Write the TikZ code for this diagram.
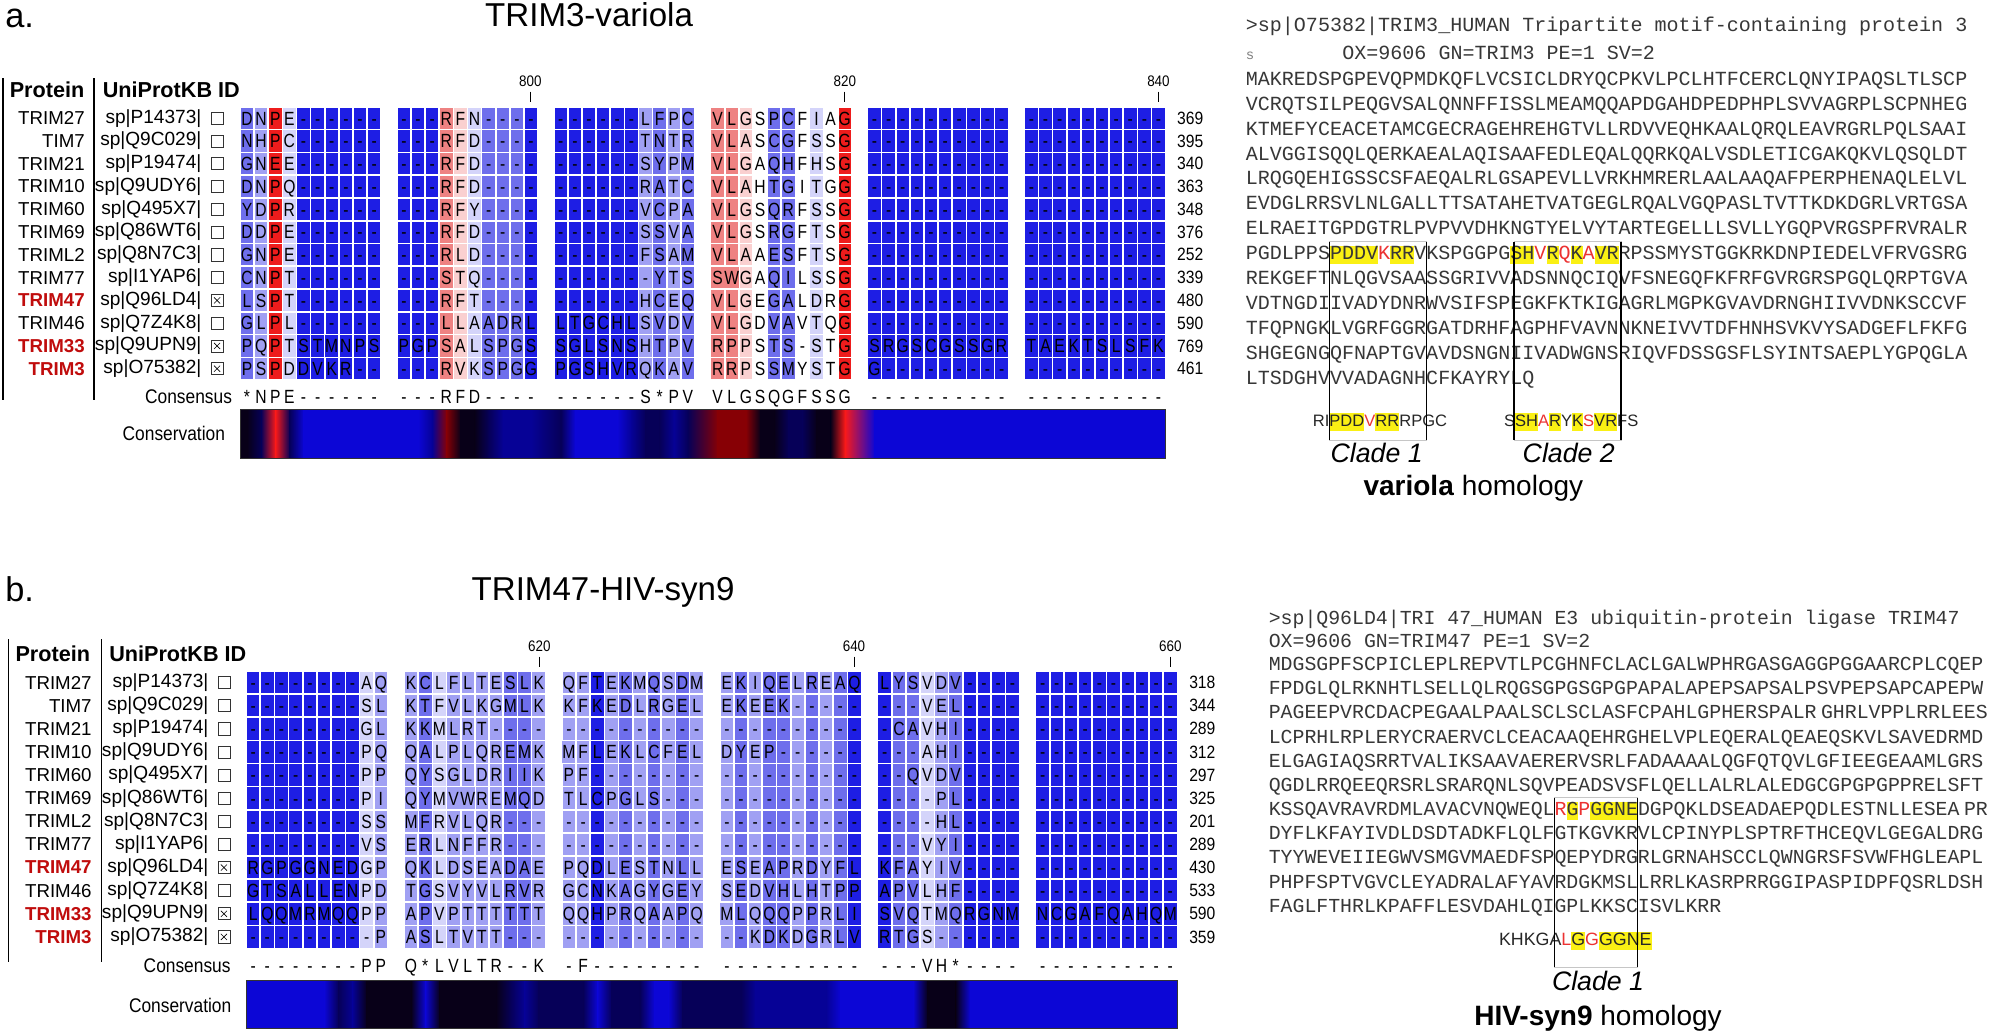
\documentclass[tikz,border=0pt]{standalone}
\usepackage{fontspec}
\setmainfont{Liberation Sans}
\newfontfamily\monof{Liberation Mono}
\newfontfamily\narf[FakeStretch=0.88]{Liberation Sans}
\newfontfamily\cellfam[FakeStretch=0.82]{Liberation Sans}
\usetikzlibrary{calc}
\definecolor{cB}{RGB}{30,30,228}
\definecolor{cM}{RGB}{110,110,236}
\definecolor{cL}{RGB}{160,160,243}
\definecolor{cV}{RGB}{212,212,250}
\definecolor{cW}{RGB}{255,255,255}
\definecolor{cp}{RGB}{250,208,208}
\definecolor{cP}{RGB}{238,130,130}
\definecolor{cR}{RGB}{238,28,28}
\definecolor{bb}{RGB}{12,6,214}
\definecolor{bd}{RGB}{6,2,150}
\definecolor{bn}{RGB}{6,0,88}
\definecolor{bk}{RGB}{8,0,24}
\definecolor{bm}{RGB}{135,0,5}
\definecolor{bR}{RGB}{250,25,25}
\definecolor{namered}{RGB}{192,12,12}
\definecolor{seqgray}{RGB}{55,55,55}
\definecolor{seqred}{RGB}{236,50,50}
\definecolor{hly}{RGB}{250,240,20}
\newcount\alcol
\def\setcodes#1#2{\global\alcol=0 \def\curpanel{#1}\setcodesloop#2\relax}
\def\setcodesloop#1{\ifx\relax#1\else\expandafter\xdef\csname cc\curpanel\the\alcol\endcsname{#1}\global\advance\alcol by 1 \expandafter\setcodesloop\fi}
\def\startrow#1{\global\alcol=0 \rowloop#1\relax}
\def\rowloop#1{\ifx\relax#1\else\cellhook{#1}\global\advance\alcol by 1 \expandafter\rowloop\fi}
\def\colx#1{\pgfmathsetmacro\cx{\xstart+div(#1,10)*\bpitch+(mod(#1,10)+0.5)*\cw}}
\def\alhook#1{\colx{\the\alcol}\edef\curcode{\csname cc\curpanel\the\alcol\endcsname}\edef\cellname{\rowname c\the\alcol}\node[cell,fill=c\curcode] (\cellname) at (\cx,\rowy) {#1};}
\def\conhook#1{\colx{\the\alcol}\edef\cellname{\rowname c\the\alcol}\node[cons] (\cellname) at (\cx,\rowy) {#1};}
\def\drawbar#1{%
  \colx{0}\edef\bca{\csname cc#10\endcsname}%
  \fill[b\bca] (\barl,\bartop) rectangle (\cx+0.3,\barbot);
  \colx{59}\edef\bca{\csname cc#159\endcsname}%
  \fill[b\bca] (\cx-0.3,\bartop) rectangle (\barr,\barbot);
  \foreach \i in {0,...,58}{%
    \pgfmathtruncatemacro\j{\i+1}%
    \colx{\i}\let\bxa\cx \colx{\j}\let\bxb\cx
    \edef\bca{\csname cc#1\i\endcsname}\edef\bcb{\csname cc#1\j\endcsname}%
    \shade[left color=b\bca,right color=b\bcb] (\bxa,\bartop) rectangle (\bxb+0.4,\barbot);}%
  \draw[gray!40!black,line width=0.7pt] (\barl,\bartop) rectangle (\barr,\barbot);}
\newcommand\hly[1]{{\setlength\fboxsep{0pt}\colorbox{hly}{\rule[-3.5pt]{0pt}{14.5pt}#1}}}
\newcommand\rdl[1]{\textcolor{seqred}{#1}}
\begin{document}
\begin{tikzpicture}[x=1pt,y=-1pt,
  every node/.style={inner sep=0pt},
  cell/.style={minimum width=\cellW, minimum height=\cellH, font=\cellfam\fontsize{15}{15}\selectfont, text height=10.7pt, text depth=0pt, text=black},
  cons/.style={font=\cellfam\fontsize{15}{15}\selectfont, text height=10.7pt, text depth=0pt},
  pname/.style={font=\fontsize{14.7}{16}\selectfont, anchor=east},
  redname/.style={font=\bfseries\fontsize{14.7}{16}\selectfont, text=namered, anchor=east},
  sidtxt/.style={font=\fontsize{15}{16}\selectfont, anchor=east},
  hdr/.style={font=\bfseries\fontsize{17}{18}\selectfont, anchor=west},
  chk/.style={draw=black!80, line width=0.6pt, minimum width=9.5pt, minimum height=9.5pt, fill=white},
  numtxt/.style={font=\narf\fontsize{14}{14}\selectfont, anchor=west},
  ticklab/.style={font=\narf\fontsize{12}{12}\selectfont},
  lbl/.style={font=\narf\fontsize{15.5}{16}\selectfont, anchor=east},
  seqtxt/.style={font=\monof\fontsize{15.75}{18}\selectfont, text=seqgray, anchor=west, text height=11pt, text depth=3pt},
  seqtxtb/.style={font=\monof\fontsize{15.6}{18}\selectfont, text=seqgray, anchor=west, text height=11pt, text depth=3pt},
  cmp/.style={font=\fontsize{13}{14}\selectfont, text=black!85, anchor=west, text height=10pt, text depth=3pt},
  clade/.style={font=\itshape\fontsize{21}{22}\selectfont},
  homol/.style={font=\fontsize{22}{24}\selectfont},
  plabel/.style={font=\fontsize{27}{28}\selectfont, anchor=base west},
  ptitle/.style={font=\fontsize{26}{28}\selectfont, anchor=base},
  vline/.style={line width=1.2pt},
  boxside/.style={line width=1.1pt},
  boxedge/.style={draw=gray!45, line width=0.6pt}
]
\useasboundingbox[fill=white] (0,0) rectangle (1568,813);
% ================= PANEL A =================
\node[plabel] (alab) at (4,22) {a.};
\node[ptitle] (atit) at (463,21) {TRIM3-variola};
\node[hdr] (ahp) at (7.5,70.3) {Protein};
\node[hdr] (ahu) at (80.6,70.3) {UniProtKB ID};
\draw[vline] (2.4,61.6) -- (2.4,314.4);
\draw[vline] (73.7,61.6) -- (73.7,314.4);
\def\xstart{188.6}\def\bpitch{123.3}\def\cw{11.1}\def\cellW{9.8pt}\def\cellH{16.6pt}
\node[ticklab] (at800) at (416.8,64) {800};
\draw[line width=0.6pt] (416.8,72) -- (416.8,80.5);
\node[ticklab] (at820) at (664,64) {820};
\draw[line width=0.6pt] (664,72) -- (664,80.5);
\node[ticklab] (at840) at (910.5,64) {840};
\draw[line width=0.6pt] (910.5,72) -- (910.5,80.5);
\setcodes{a}{MLRVBBBBBB BBBPpVMMMB BBBBBBLMLM PPpWMMWVWR BBBBBBBBBB BBBBBBBBBB}
\let\cellhook\alhook
\foreach \nm/\sid/\cko/\nn/\sq [count=\k from 0] in {%
TRIM27/sp|P14373|/0/369/DNPE------ ---RFN---- ------LFPC VLGSPCFIAG ---------- ----------,%
TIM7/sp|Q9C029|/0/395/NHPC------ ---RFD---- ------TNTR VLASCGFSSG ---------- ----------,%
TRIM21/sp|P19474|/0/340/GNEE------ ---RFD---- ------SYPM VLGAQHFHSG ---------- ----------,%
TRIM10/sp|Q9UDY6|/0/363/DNPQ------ ---RFD---- ------RATC VLAHTGITGG ---------- ----------,%
TRIM60/sp|Q495X7|/0/348/YDPR------ ---RFY---- ------VCPA VLGSQRFSSG ---------- ----------,%
TRIM69/sp|Q86WT6|/0/376/DDPE------ ---RFD---- ------SSVA VLGSRGFTSG ---------- ----------,%
TRIML2/sp|Q8N7C3|/0/252/GNPE------ ---RLD---- ------FSAM VLAAESFTSG ---------- ----------,%
TRIM77/sp|I1YAP6|/0/339/CNPT------ ---STQ---- -------YTS SWGAQILSSG ---------- ----------,%
TRIM47/sp|Q96LD4|/1/480/LSPT------ ---RFT---- ------HCEQ VLGEGALDRG ---------- ----------,%
TRIM46/sp|Q7Z4K8|/0/590/GLPL------ ---LLAADRL LTGCHLSVDV VLGDVAVTQG ---------- ----------,%
TRIM33/sp|Q9UPN9|/1/769/PQPTSTMNPS PGPSALSPGS SGLSNSHTPV RPPSTS-STG SRGSCGSSGR TAEKTSLSFK,%
TRIM3/sp|O75382|/1/461/PSPDDVKR-- ---RVKSPGG PGSHVRQKAV RRPSSMYSTG G--------- ----------%
}{%
 \pgfmathsetmacro\rowy{92.9+17.9*\k}%
 \edef\rowname{a\k}%
 \ifnum\cko=1 \node[redname] (an\k) at (66.8,\rowy) {\nm};\else\node[pname] (an\k) at (66.8,\rowy) {\nm};\fi
 \node[sidtxt] (ai\k) at (158.5,\rowy) {\sid};
 \node[chk] (ab\k) at (170.6,\rowy) {};
 \ifnum\cko=1 \draw[line width=0.5pt] ($(ab\k)+(-2.4,-2.4)$) -- ($(ab\k)+(2.4,2.4)$) ($(ab\k)+(-2.4,2.4)$) -- ($(ab\k)+(2.4,-2.4)$);\fi
 \node[numtxt] (ar\k) at (925,\rowy) {\nn};
 \expandafter\startrow\expandafter{\sq}%
}
\node[lbl] (acl) at (182.5,311.8) {Consensus};
\let\cellhook\conhook
\def\rowy{311.8}\def\rowname{acons}
\startrow{*NPE------ ---RFD---- ------S*PV VLGSQGFSSG ---------- ----------}
\node[lbl] (acv) at (177,341) {Conservation};
\setcodes{ba}{knRnbbbbbb bbdmkknddd nbbbbdnndn mmmkknnkkR bbbbbbbbbb bbbbbbbbbb}
\def\bartop{322}\def\barbot{360}\def\barl{188.6}\def\barr{916}
\drawbar{ba}
% right side A
\node[seqtxt] (ah1) at (979,21) {>sp|O75382|TRIM3\_HUMAN Tripartite motif-containing protein 3};
\node[seqtxt, font=\monof\fontsize{11}{12}\selectfont, text=gray] (ah2s) at (979,43) {s};
\node[seqtxt] (ah2) at (1054.8,43) {OX=9606 GN=TRIM3 PE=1 SV=2};
\foreach \sline [count=\k from 0] in {%
MAKREDSPGPEVQPMDKQFLVCSICLDRYQCPKVLPCLHTFCERCLQNYIPAQSLTLSCP,%
VCRQTSILPEQGVSALQNNFFISSLMEAMQQAPDGAHDPEDPHPLSVVAGRPLSCPNHEG,%
KTMEFYCEACETAMCGECRAGEHREHGTVLLRDVVEQHKAALQRQLEAVRGRLPQLSAAI,%
ALVGGISQQLQERKAEALAQISAAFEDLEQALQQRKQALVSDLETICGAKQKVLQSQLDT,%
LRQGQEHIGSSCSFAEQALRLGSAPEVLLVRKHMRERLAALAAQAFPERPHENAQLELVL,%
EVDGLRRSVLNLGALLTTSATAHETVATGEGLRQALVGQPASLTVTTKDKDGRLVRTGSA,%
ELRAEITGPDGTRLPVPVVDHKNGTYELVYTARTEGELLLSVLLYGQPVRGSPFRVRALR,%
PGDLPPS\hly{PDDV}\rdl{K}\hly{RR}VKSPGGPG\hly{SH}\rdl{V}\hly{R}\rdl{Q}\hly{K}\rdl{A}\hly{VR}RPSSMYSTGGKRKDNPIEDELVFRVGSRG,%
REKGEFTNLQGVSAASSGRIVVADSNNQCIQVFSNEGQFKFRFGVRGRSPGQLQRPTGVA,%
VDTNGDIIVADYDNRWVSIFSPEGKFKTKIGAGRLMGPKGVAVDRNGHIIVVDNKSCCVF,%
TFQPNGKLVGRFGGRGATDRHFAGPHFVAVNNKNEIVVTDFHNHSVKVYSADGEFLFKFG,%
SHGEGNGQFNAPTGVAVDSNGNIIVADWGNSRIQVFDSSGSFLSYINTSAEPLYGPQGLA,%
LTSDGHVVVADAGNHCFKAYRYLQ%
}{\node[seqtxt] (as\k) at (979,63+19.6*\k) {\sline};}
\node[cmp] (acm1) at (1031.7,332) {RI\hly{PDD}\rdl{V}\hly{RR}RPGC};
\node[cmp] (acm2) at (1182,332) {S\hly{SH}\rdl{A}\hly{R}Y\hly{K}\rdl{S}\hly{VR}FS};
\draw[boxedge] (1045,190) rectangle (1121,346);
\draw[boxedge] (1190,190) rectangle (1274,346);
\draw[boxside] (1045,190) -- (1045,346) (1121,190) -- (1121,346);
\draw[boxside] (1190,190) -- (1190,346) (1274,190) -- (1274,346);
\node[clade] (acd1) at (1082,356) {Clade 1};
\node[clade] (acd2) at (1233,356) {Clade 2};
\node[homol] (ahom) at (1158,384) {\textbf{variola} homology};
% ================= PANEL B =================
\node[plabel] (blab) at (4,473) {b.};
\node[ptitle] (btit) at (474,471.6) {TRIM47-HIV-syn9};
\node[hdr] (bhp) at (12,513.5) {Protein};
\node[hdr] (bhu) at (85.7,513.5) {UniProtKB ID};
\draw[vline] (6.6,502.5) -- (6.6,756);
\draw[vline] (79.7,502.5) -- (79.7,756);
\def\xstart{193.4}\def\bpitch{124.1}\def\cw{11.15}\def\cellW{9.85pt}\def\cellH{16.9pt}
\node[ticklab] (bt620) at (423.9,507.7) {620};
\draw[line width=0.6pt] (423.9,516) -- (423.9,524);
\node[ticklab] (bt640) at (671.2,507.7) {640};
\draw[line width=0.6pt] (671.2,516) -- (671.2,524);
\node[ticklab] (bt660) at (919.9,507.7) {660};
\draw[line width=0.6pt] (919.9,516) -- (919.9,524);
\setcodes{b}{BBBBBBBBVL LMVLLLLMML LLBLMLMLML LMLMMLMLMB BMMVLMBBBB BBBBBBBBBB}
\let\cellhook\alhook
\foreach \nm/\sid/\cko/\nn/\sq [count=\k from 0] in {%
TRIM27/sp|P14373|/0/318/--------AQ KCLFLTESLK QFTEKMQSDM EKIQELREAQ LYSVDV---- ----------,%
TIM7/sp|Q9C029|/0/344/--------SL KTFVLKGMLK KFKEDLRGEL EKEEK----- ---VEL---- ----------,%
TRIM21/sp|P19474|/0/289/--------GL KKMLRT---- ---------- ---------- -CAVHI---- ----------,%
TRIM10/sp|Q9UDY6|/0/312/--------PQ QALPLQREMK MFLEKLCFEL DYEP------ ---AHI---- ----------,%
TRIM60/sp|Q495X7|/0/297/--------PP QYSGLDRIIK PF-------- ---------- --QVDV---- ----------,%
TRIM69/sp|Q86WT6|/0/325/--------PI QYMVWREMQD TLCPGLS--- ---------- ----PL---- ----------,%
TRIML2/sp|Q8N7C3|/0/201/--------SS MFRVLQR--- ---------- ---------- ----HL---- ----------,%
TRIM77/sp|I1YAP6|/0/289/--------VS ERLNFFR--- ---------- ---------- ---VYI---- ----------,%
TRIM47/sp|Q96LD4|/1/430/RGPGGNEDGP QKLDSEADAE PQDLESTNLL ESEAPRDYFL KFAYIV---- ----------,%
TRIM46/sp|Q7Z4K8|/0/533/GTSALLENPD TGSVYVLRVR GCNKAGYGEY SEDVHLHTPP APVLHF---- ----------,%
TRIM33/sp|Q9UPN9|/1/590/LQQMRMQQPP APVPTTTTTT QQHPRQAAPQ MLQQQPPRLI SVQTMQRGNM NCGAFQAHQM,%
TRIM3/sp|O75382|/1/359/---------P ASLTVTT--- ---------- --KDKDGRLV RTGS------ ----------%
}{%
 \pgfmathsetmacro\rowy{536.5+18.17*\k}%
 \edef\rowname{b\k}%
 \ifnum\cko=1 \node[redname] (bn\k) at (72.2,\rowy) {\nm};\else\node[pname] (bn\k) at (72.2,\rowy) {\nm};\fi
 \node[sidtxt] (bi\k) at (164,\rowy) {\sid};
 \node[chk] (bb\k) at (176,\rowy) {};
 \ifnum\cko=1 \draw[line width=0.5pt] ($(bb\k)+(-2.4,-2.4)$) -- ($(bb\k)+(2.4,2.4)$) ($(bb\k)+(-2.4,2.4)$) -- ($(bb\k)+(2.4,-2.4)$);\fi
 \node[numtxt] (br\k) at (934.5,\rowy) {\nn};
 \expandafter\startrow\expandafter{\sq}%
}
\node[lbl] (bcl) at (181.4,759) {Consensus};
\let\cellhook\conhook
\def\rowy{759}\def\rowname{bcons}
\startrow{--------PP Q*LVLTR--K -F-------- ---------- ---VH*---- ----------}
\node[lbl] (bcv) at (182,790) {Conservation};
\setcodes{bbar}{bbbbbbndkk kbkkkkkndn nnbnnnbbnn nnddddddbb bbbkkkbbbb bbbbbbbbbb}
\def\bartop{770.3}\def\barbot{808}\def\barl{193.4}\def\barr{925.5}
\drawbar{bbar}
% right side B
\node[seqtxtb] (bh1) at (997,487) {>sp|Q96LD4|TRI 47\_HUMAN E3 ubiquitin-protein ligase TRIM47};
\node[seqtxtb] (bh2) at (997,505) {OX=9606 GN=TRIM47 PE=1 SV=2};
\foreach \sline [count=\k from 0] in {%
MDGSGPFSCPICLEPLREPVTLPCGHNFCLACLGALWPHRGASGAGGPGGAARCPLCQEP,%
FPDGLQLRKNHTLSELLQLRQGSGPGSGPGPAPALAPEPSAPSALPSVPEPSAPCAPEPW,%
PAGEEPVRCDACPEGAALPAALSCLSCLASFCPAHLGPHERSPALR\hspace{3.5pt}GHRLVPPLRRLEES,%
LCPRHLRPLERYCRAERVCLCEACAAQEHRGHELVPLEQERALQEAEQSKVLSAVEDRMD,%
ELGAGIAQSRRTVALIKSAAVAERERVSRLFADAAAALQGFQTQVLGFIEEGEAAMLGRS,%
QGDLRRQEEQRSRLSRARQNLSQVPEADSVSFLQELLALRLALEDGCGPGPGPPRELSFT,%
KSSQAVRAVRDMLAVACVNQWEQL\rdl{R}\hly{G}\rdl{P}\hly{GGNE}DGPQKLDSEADAEPQDLESTNLLESEA\hspace{3.5pt}PR,%
DYFLKFAYIVDLDSDTADKFLQLFGTKGVKRVLCPINYPLSPTRFTHCEQVLGEGALDRG,%
TYYWEVEIIEGWVSMGVMAEDFSPQEPYDRGRLGRNAHSCCLQWNGRSFSVWFHGLEAPL,%
PHPFSPTVGVCLEYADRALAFYAVRDGKMSLLRRLKASRPRRGGIPASPIDPFQSRLDSH,%
FAGLFTHRLKPAFFLESVDAHLQIGPLKKSCISVLKRR%
}{\node[seqtxtb] (bs\k) at (997,523+19*\k) {\sline};}
\node[cmp, font=\fontsize{14}{15}\selectfont] (bcm1) at (1178,740) {KHKGA\rdl{L}\hly{G}\rdl{G}\hly{GGNE}};
\draw[boxedge] (1221.6,627) rectangle (1287,760);
\draw[boxside] (1221.6,627) -- (1221.6,760) (1287,627) -- (1287,760);
\node[clade] (bcd1) at (1256,771) {Clade 1};
\node[homol] (bhom) at (1256,800) {\textbf{HIV-syn9} homology};
\end{tikzpicture}
\end{document}
